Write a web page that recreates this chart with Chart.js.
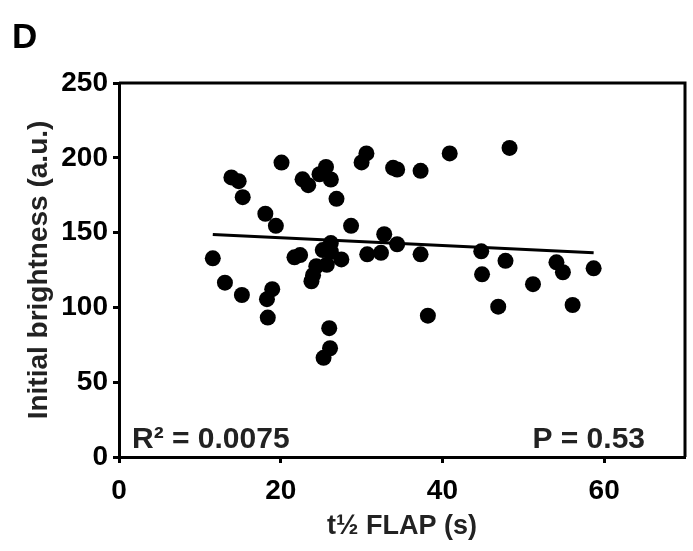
<!DOCTYPE html>
<html lang="en">

<head>
    <meta charset="UTF-8" />
    <title>FLAP vs initial brightness</title>
    <script src="https://cdn.jsdelivr.net/npm/chart.js@4.4.0/dist/chart.umd.min.js"></script>
    <style>
        body {
            margin: 0;
            background: #fff;
        }
    </style>
</head>

<body>
    <canvas id="chart" width="693" height="551"></canvas>

    <script>
        // values
        const halfTime = [11.6, 13.1, 13.9, 14.8, 15.2, 15.3, 18.1, 18.3, 18.4, 18.95, 19.4, 20.1, 21.7, 22.4,
            22.7, 23.4, 23.8, 24.0, 24.4, 24.8, 25.2, 25.3, 25.6, 25.7, 26.0, 26.1, 26.2, 26.2, 26.2, 26.9,
            27.5, 28.7, 30.0, 30.6, 30.7, 32.4, 32.8, 33.9, 34.4, 34.4, 37.3, 37.3, 38.2, 40.9, 44.8, 44.9,
            46.9, 47.8, 48.3, 51.2, 54.1, 54.9, 56.1, 58.7];
        const brightness = [132.8, 116.5, 186.9, 184.4, 108.3, 173.7, 162.6, 105.5, 93.2, 112.2, 154.5, 196.8, 133.5, 135,
            185.6, 181.7, 117.5, 121.5, 127.5, 189, 138.3, 66.3, 193.9, 128.5, 86.1, 72.7, 143, 137.2, 185.5, 172.6,
            132.1, 154.5, 196.9, 202.9, 135.5, 136.5, 148.9, 193.3, 192.2, 142.2, 191.3, 135.5, 94.5, 202.9, 137.5, 122.1,
            100.5, 131.1, 206.6, 115.5, 130.1, 123.5, 101.6, 126.1];
        // linear fit ends
        const fitX = [11.6, 58.7];
        const fitY = [148.8, 136.5];
        const xTicks = [0, 20, 40, 60];
        const yTicks = [0, 50, 100, 150, 200, 250];

        const FONT = 'Liberation Sans, Arial, Helvetica, sans-serif';

        const points = halfTime.map((x, i) => ({ x: x, y: brightness[i] }));
        const fitLine = fitX.map((x, i) => ({ x: x, y: fitY[i] }));

        // box on top/right, panel letter and stats text
        const extras = {
            id: 'extras',
            afterDraw(chart) {
                const { ctx, chartArea } = chart;
                ctx.save();
                ctx.strokeStyle = '#000';
                ctx.lineWidth = 3;
                ctx.beginPath();
                ctx.moveTo(chartArea.left, chartArea.top);
                ctx.lineTo(chartArea.right, chartArea.top);
                ctx.lineTo(chartArea.right, chartArea.bottom);
                ctx.stroke();

                ctx.fillStyle = '#000';
                ctx.font = 'bold 35px ' + FONT;
                ctx.textBaseline = 'alphabetic';
                ctx.textAlign = 'left';
                ctx.fillText('D', 12, 48);

                ctx.fillStyle = '#222';
                ctx.font = 'bold 30px ' + FONT;
                ctx.fillText('R\u00B2 = 0.0075', chartArea.left + 13, chartArea.bottom - 9);
                ctx.textAlign = 'right';
                ctx.fillText('P = 0.53', chartArea.right - 40, chartArea.bottom - 9);
                ctx.restore();
            }
        };

        const ctx = document.getElementById('chart').getContext('2d');
        const myChart = new Chart(ctx, {
            type: 'scatter',
            data: {
                datasets: [
                    {
                        label: 'fit',
                        type: 'line',
                        data: fitLine,
                        borderColor: '#000',
                        borderWidth: 3,
                        pointRadius: 0,
                        fill: false,
                        order: 0
                    },
                    {
                        label: 'cells',
                        data: points,
                        backgroundColor: '#000',
                        borderWidth: 0,
                        pointRadius: 8,
                        pointHoverRadius: 8,
                        order: 1
                    }
                ]
            },
            options: {
                responsive: false,
                animation: false,
                layout: { padding: { top: 83, right: 7, left: 0, bottom: 0 } },
                plugins: {
                    legend: { display: false },
                    tooltip: { enabled: false }
                },
                scales: {
                    x: {
                        type: 'linear',
                        min: 0,
                        max: 70,
                        afterBuildTicks: (scale) => { scale.ticks = xTicks.map(v => ({ value: v })); },
                        afterFit: (scale) => { scale.height = 94; },
                        ticks: {
                            color: '#000',
                            padding: 11,
                            font: { family: FONT, size: 28, weight: 'bold' }
                        },
                        grid: {
                            drawOnChartArea: false,
                            drawTicks: true,
                            tickLength: 6,
                            tickWidth: 3,
                            tickColor: '#000'
                        },
                        border: { display: true, width: 3, color: '#000' },
                        title: {
                            display: true,
                            text: 't\u00BD FLAP (s)',
                            color: '#222',
                            font: { family: FONT, size: 27, weight: 'bold' },
                            padding: { top: 0, bottom: 8 }
                        }
                    },
                    y: {
                        type: 'linear',
                        min: 0,
                        max: 250,
                        afterBuildTicks: (scale) => { scale.ticks = yTicks.map(v => ({ value: v })); },
                        afterFit: (scale) => { scale.width = 119; },
                        ticks: {
                            color: '#000',
                            padding: 5,
                            font: { family: FONT, size: 28, weight: 'bold' }
                        },
                        grid: {
                            drawOnChartArea: false,
                            drawTicks: true,
                            tickLength: 6,
                            tickWidth: 3,
                            tickColor: '#000'
                        },
                        border: { display: true, width: 3, color: '#000' },
                        title: {
                            display: true,
                            text: 'Initial brightness (a.u.)',
                            color: '#222',
                            font: { family: FONT, size: 28, weight: 'bold' },
                            padding: { top: 22, bottom: 0 }
                        }
                    }
                }
            },
            plugins: [extras]
        });
    </script>
</body>

</html>
